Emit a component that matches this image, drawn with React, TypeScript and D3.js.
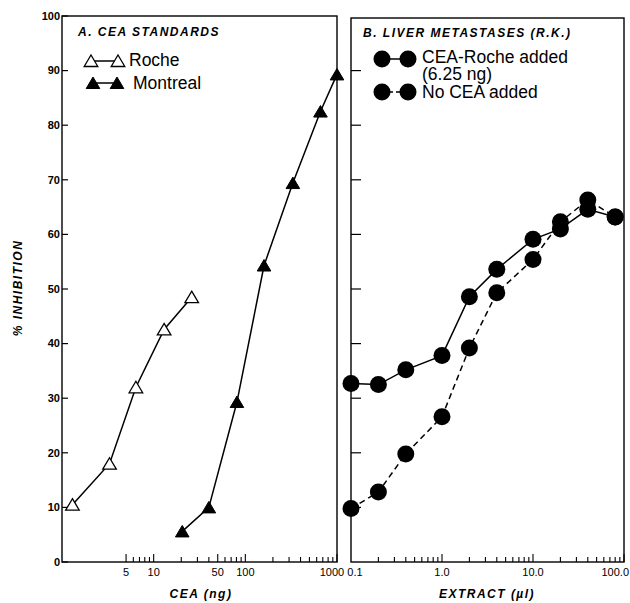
import React from "react";
import * as d3 from "d3";

// ---- data ----
const rocheX = [1.3, 3.3, 6.4, 13, 26];
const rocheY = [10.5, 18, 32, 42.6, 48.5];
const montrealX = [20.5, 40, 81, 160, 330, 660, 1000];
const montrealY = [5.6, 10, 29.3, 54.3, 69.4, 82.5, 89.3];
const extractX = [0.1, 0.2, 0.4, 1, 2, 4, 10, 20, 40, 80];
const addedY = [32.7, 32.5, 35.2, 37.8, 48.6, 53.6, 59.1, 61, 64.6, 63.2];
const noAddedY = [9.8, 12.8, 19.8, 26.6, 39.2, 49.3, 55.4, 62.3, 66.3, 63.2];
const yTicks = [0, 10, 20, 30, 40, 50, 60, 70, 80, 90, 100];
const ceaLabels = [5, 10, 50, 100, 1000];
const ceaMinor = [5, 6, 7, 8, 9, 10, 20, 30, 40, 50, 60, 70, 80, 90, 100, 200, 300, 400, 500, 600, 700, 800, 900, 1000];
const extLabels = [0.1, 1, 10, 100];
const extLabelText = ["0.1", "1.0", "10.0", "100.0"];
const extMinor = [0.2, 0.3, 0.4, 0.5, 0.6, 0.7, 0.8, 0.9, 1, 2, 3, 4, 5, 6, 7, 8, 9, 10, 20, 30, 40, 50, 60, 70, 80, 90, 100];

const FONT = "'Liberation Sans', Arial, Helvetica, sans-serif";

export default function App() {
  const W = 630, H = 603;
  const top = 16, bottom = 562;
  const y = d3.scaleLinear().domain([0, 100]).range([bottom, top]);
  const xA = d3.scaleLog().domain([1, 1000]).range([62, 337]);
  const xB = d3.scaleLog().domain([0.1, 100]).range([351, 624]);
  const topB = 18;

  const line = d3.line<[number, number]>();
  const rocheLine = line(rocheX.map((v, i) => [xA(v), y(rocheY[i])]));
  const montLine = line(montrealX.map((v, i) => [xA(v), y(montrealY[i])]));
  const addLine = line(extractX.map((v, i) => [xB(v), y(addedY[i])]));
  const noLine = line(extractX.map((v, i) => [xB(v), y(noAddedY[i])]));

  const tri = (cx: number, cy: number) =>
    `M${cx},${cy - 6}L${cx + 6.8},${cy + 5.5}L${cx - 6.8},${cy + 5.5}Z`;

  const titleStyle = { fontFamily: FONT, fontWeight: 700, fontStyle: "italic", fontSize: 12, letterSpacing: 1.5 } as const;
  const legStyle = { fontFamily: FONT, fontSize: 17.5 } as const;
  const r = 8.5;

  return (
    <svg width={W} height={H} style={{ position: "absolute", left: 0, top: 0, background: "#fff" }}>
      <rect x={0} y={0} width={W} height={H} fill="#fff" />
      {/* Panel A frame */}
      <rect x={62} y={top} width={337 - 62} height={bottom - top} fill="none" stroke="#000" strokeWidth={1.4} />
      {/* Panel B frame */}
      <rect x={351} y={topB} width={624 - 351} height={bottom - topB} fill="none" stroke="#000" strokeWidth={1.4} />

      {/* y ticks & labels */}
      {yTicks.map((t) => (
        <g key={"ya" + t}>
          <line x1={62} x2={68} y1={y(t)} y2={y(t)} stroke="#000" strokeWidth={1.2} />
          <text x={60} y={y(t)} dy="0.35em" textAnchor="end" fontFamily={FONT} fontWeight={700} fontSize={11}>{t}</text>
        </g>
      ))}
      {yTicks.filter((t) => t > 0 && t < 100).map((t) => (
        <line key={"yb" + t} x1={351} x2={361} y1={y(t)} y2={y(t)} stroke="#000" strokeWidth={1.2} />
      ))}

      {/* x ticks panel A */}
      {ceaMinor.map((t) => {
        const major = ceaLabels.includes(t);
        return <line key={"xa" + t} x1={xA(t)} x2={xA(t)} y1={bottom} y2={bottom - (major ? 8 : 5)} stroke="#000" strokeWidth={1.1} />;
      })}
      {ceaLabels.map((t) => (
        <text key={"xal" + t} x={xA(t) - (t === 1000 ? 5 : 0)} y={572} dy="0.35em" textAnchor="middle" fontFamily={FONT} fontSize={11}>{t}</text>
      ))}
      {/* x ticks panel B */}
      {extMinor.map((t) => {
        const major = extLabels.includes(t);
        return <line key={"xb" + t} x1={xB(t)} x2={xB(t)} y1={bottom} y2={bottom - (major ? 8 : 5)} stroke="#000" strokeWidth={1.1} />;
      })}
      {extLabels.map((t, i) => (
        <text key={"xbl" + t} x={i === 3 ? 629 : xB(t) + (i === 0 ? 4 : 0)} y={572} dy="0.35em" textAnchor={i === 3 ? "end" : "middle"} fontFamily={FONT} fontSize={11}>{extLabelText[i]}</text>
      ))}

      {/* axis titles */}
      <text transform="translate(22,288) rotate(-90)" textAnchor="middle" {...titleStyle}>% INHIBITION</text>
      <text x={201} y={598} textAnchor="middle" {...titleStyle}>CEA (ng)</text>
      <text x={487} y={598} textAnchor="middle" {...titleStyle}>EXTRACT (µl)</text>

      {/* Panel A legend */}
      <text x={78} y={36} {...titleStyle}>A. CEA STANDARDS</text>
      <line x1={91} x2={118} y1={61} y2={61} stroke="#000" strokeWidth={1.5} />
      <path d={tri(91, 61)} fill="#fff" stroke="#000" strokeWidth={1.3} />
      <path d={tri(118, 61)} fill="#fff" stroke="#000" strokeWidth={1.3} />
      <text x={129} y={66} {...legStyle}>Roche</text>
      <line x1={93} x2={117} y1={83} y2={83} stroke="#000" strokeWidth={1.5} />
      <path d={tri(93, 83)} fill="#000" stroke="#000" strokeWidth={1} />
      <path d={tri(117, 83)} fill="#000" stroke="#000" strokeWidth={1} />
      <text x={133} y={89} {...legStyle}>Montreal</text>

      {/* Panel A data */}
      <path d={rocheLine ?? ""} fill="none" stroke="#000" strokeWidth={1.5} />
      <path d={montLine ?? ""} fill="none" stroke="#000" strokeWidth={1.5} />
      {rocheX.map((v, i) => (
        <path key={"rp" + i} d={tri(xA(v), y(rocheY[i]))} fill="#fff" stroke="#000" strokeWidth={1.3} />
      ))}
      {montrealX.map((v, i) => (
        <path key={"mp" + i} d={tri(xA(v), y(montrealY[i]))} fill="#000" stroke="#000" strokeWidth={1} />
      ))}

      {/* Panel B legend */}
      <text x={363} y={37} {...titleStyle}>B. LIVER METASTASES (R.K.)</text>
      <line x1={382} x2={408} y1={59} y2={59} stroke="#000" strokeWidth={1.5} />
      <circle cx={382} cy={59} r={r} fill="#000" />
      <circle cx={408} cy={59} r={r} fill="#000" />
      <text x={422} y={63} {...legStyle}>CEA-Roche added</text>
      <text x={422} y={80} {...legStyle}>(6.25 ng)</text>
      <line x1={382} x2={408} y1={92} y2={92} stroke="#000" strokeWidth={1.5} strokeDasharray="4,3" />
      <circle cx={382} cy={92} r={r} fill="#000" />
      <circle cx={408} cy={92} r={r} fill="#000" />
      <text x={422} y={98} {...legStyle}>No CEA added</text>

      {/* Panel B data */}
      <path d={addLine ?? ""} fill="none" stroke="#000" strokeWidth={1.5} />
      <path d={noLine ?? ""} fill="none" stroke="#000" strokeWidth={1.5} strokeDasharray="6,4" />
      {extractX.map((v, i) => (
        <circle key={"ap" + i} cx={xB(v)} cy={y(addedY[i])} r={r} fill="#000" />
      ))}
      {extractX.map((v, i) => (
        <circle key={"np" + i} cx={xB(v)} cy={y(noAddedY[i])} r={r} fill="#000" />
      ))}
    </svg>
  );
}
